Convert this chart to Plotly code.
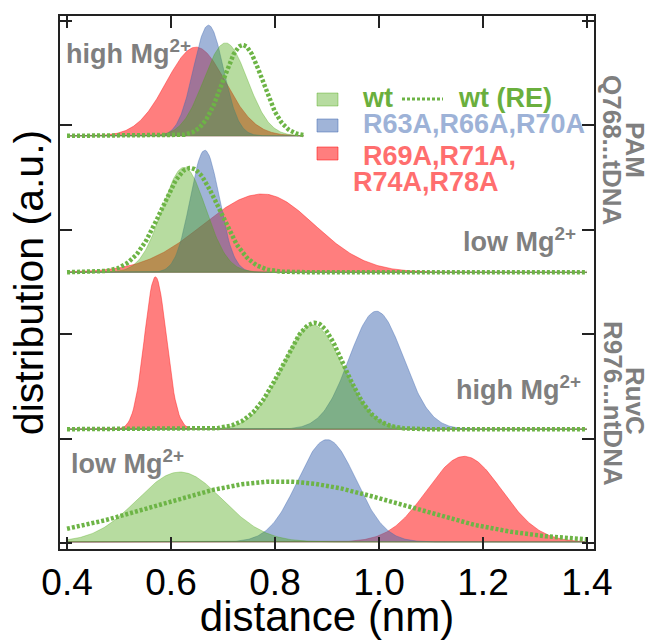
import numpy as np
import plotly.graph_objects as go

# ---------------- data ----------------
panels = ["PAM high Mg2+", "PAM low Mg2+", "RuvC high Mg2+", "RuvC low Mg2+"]
baselines = [3.90, 2.593, 1.09, 0.01]          # vertical offset of each distribution
x_start = [0.40, 0.40, 0.40, 0.40]
x_end = [0.855, 1.40, 1.40, 1.40]

# wt (filled green): peak position, width, peak height
wt_center = [0.705, 0.625, 0.872, 0.617]
wt_sigma = [0.042, 0.042, 0.058, 0.082]
wt_height = [0.89, 1.005, 1.00, 0.67]

# wt (RE) (dotted green)
re_center = [0.738, 0.637, 0.877, 0.81]
re_sigma_l = [0.038, 0.055, 0.062, 0.235]
re_sigma_r = [0.038, 0.055, 0.055, 0.235]
re_height = [0.87, 1.00, 1.02, 0.58]

# R63A,R66A,R70A (filled blue)
b_center = [0.672, 0.665, 0.995, 0.900]
b_sigma = [0.029, 0.028, 0.052, 0.056]
b_height = [1.06, 1.17, 1.13, 0.98]

# R69A,R71A,R74A,R78A (filled red)
r_center = [0.648, 0.776, 0.570, 1.164]
r_sigma_l = [0.057, 0.115, 0.021, 0.072]
r_sigma_r = [0.057, 0.100, 0.021, 0.072]
r_height = [0.85, 0.75, 1.46, 0.82]

x_tickvals = [0.4, 0.6, 0.8, 1.0, 1.2, 1.4]
x_ticktext = ["0.4", "0.6", "0.8", "1.0", "1.2", "1.4"]
y_tickvals = [0, 1, 2, 3, 4, 5]

mg_labels = ["high Mg<sup>2+</sup>", "low Mg<sup>2+</sup>", "high Mg<sup>2+</sup>", "low Mg<sup>2+</sup>"]
legend_labels = ["wt", "wt (RE)", "R63A,R66A,R70A", "R69A,R71A,", "R74A,R78A"]
side_labels = [("PAM", "Q768...tDNA"), ("RuvC", "R976...ntDNA")]

# ---------------- styles ----------------
RED_FILL = "rgba(255,20,20,0.55)"
BLUE_FILL = "rgba(65,105,177,0.5)"
GREEN_FILL = "rgba(75,167,17,0.4)"
GREEN_LINE = "#6db446"
GREEN_TXT = "#6aaf3d"
BLUE_TXT = "#9db2d7"
RED_TXT = "#ff6e6e"
GREY = "#7f7f7f"
DOT = "3px,2px"
FONT = "Liberation Sans, Arial, Helvetica, sans-serif"

W, H = 655, 640
L, R, T, B = 60, 61, 16, 91


def px_x(px):
    return (px - L) / (W - L - R)


def px_y(py):
    return (H - B - py) / (H - T - B)


def profile(x, c, sl, sr, h):
    s = np.where(x < c, sl, sr)
    return h * np.exp(-0.5 * ((x - c) / s) ** 2)


fig = go.Figure()


def add_fill(x, base, yv, color):
    xs = np.concatenate([x, x[::-1]])
    ys = np.concatenate([base + yv, np.full_like(x, base)])
    fig.add_trace(go.Scatter(x=xs, y=ys, mode="lines", fill="toself",
                             fillcolor=color, line=dict(color=color, width=0.8),
                             hoverinfo="skip", showlegend=False))


for i in range(len(panels)):
    x = np.linspace(x_start[i], x_end[i], 400)
    base = baselines[i]
    add_fill(x, base, profile(x, r_center[i], r_sigma_l[i], r_sigma_r[i], r_height[i]), RED_FILL)
    add_fill(x, base, profile(x, b_center[i], b_sigma[i], b_sigma[i], b_height[i]), BLUE_FILL)
    add_fill(x, base, profile(x, wt_center[i], wt_sigma[i], wt_sigma[i], wt_height[i]), GREEN_FILL)
    fig.add_trace(go.Scatter(x=x, y=base + profile(x, re_center[i], re_sigma_l[i], re_sigma_r[i], re_height[i]),
                             mode="lines", line=dict(color=GREEN_LINE, width=4.5, dash=DOT),
                             hoverinfo="skip", showlegend=False))

annotations = []
shapes = []

# Mg labels (left px, vertical centre px)
mg_pos = [(64, 52), (461, 240), (454, 388), (69, 462)]
for lab, (px, py) in zip(mg_labels, mg_pos):
    annotations.append(dict(text=lab, x=px_x(px), y=px_y(py), xref="paper", yref="paper",
                            xanchor="left", yanchor="middle", showarrow=False,
                            font=dict(family=FONT, size=27, color=GREY, weight="bold")))

# Right-hand labels
side_pos = [((635, 150), (612, 150)), ((635, 401), (613, 403))]
for (l1, l2), (p1, p2) in zip(side_labels, side_pos):
    for lab, (px, py) in ((l1, p1), (l2, p2)):
        annotations.append(dict(text=lab, x=px_x(px), y=px_y(py), xref="paper", yref="paper",
                                xanchor="center", yanchor="middle", textangle=90, showarrow=False,
                                font=dict(family=FONT, size=26, color=GREY, weight="bold")))

# Custom legend
swatches = [(GREEN_FILL, 93, 106), (BLUE_FILL, 119, 132), (RED_FILL, 147, 160)]
for col, y0, y1 in swatches:
    shapes.append(dict(type="rect", xref="paper", yref="paper",
                       x0=px_x(317), x1=px_x(338), y0=px_y(y1), y1=px_y(y0),
                       fillcolor=col, line=dict(color=col, width=1)))
shapes.append(dict(type="line", xref="paper", yref="paper",
                   x0=px_x(402), x1=px_x(443), y0=px_y(99), y1=px_y(99),
                   line=dict(color=GREEN_LINE, width=3, dash=DOT)))
leg_pos = [(360, 98, GREEN_TXT), (456, 98, GREEN_TXT), (361, 124, BLUE_TXT),
           (361, 156, RED_TXT), (351, 182, RED_TXT)]
for lab, (px, py, col) in zip(legend_labels, leg_pos):
    annotations.append(dict(text=lab, x=px_x(px), y=px_y(py), xref="paper", yref="paper",
                            xanchor="left", yanchor="middle", showarrow=False,
                            font=dict(family=FONT, size=27, color=col, weight="bold")))

fig.update_layout(
    width=W, height=H, autosize=False,
    margin=dict(l=L, r=R, t=T, b=B),
    paper_bgcolor="white", plot_bgcolor="white",
    showlegend=False,
    annotations=annotations, shapes=shapes,
    font=dict(family=FONT, color="black"),
)
fig.update_xaxes(range=[0.3865, 1.4135], tickvals=x_tickvals, ticktext=x_ticktext, automargin=False,
                 ticks="inside", ticklen=12, tickwidth=1.5, tickcolor="#222",
                 showline=True, linewidth=1.5, linecolor="#222", mirror="ticks",
                 showgrid=False, zeroline=False,
                 tickfont=dict(family=FONT, size=37, color="black"),
                 title=dict(text="distance (nm)", font=dict(family=FONT, size=42, color="black"), standoff=5))
fig.update_yaxes(range=[-0.0575, 5.048], tickvals=y_tickvals, showticklabels=False, automargin=False,
                 ticks="inside", ticklen=12, tickwidth=1.5, tickcolor="#222",
                 showline=True, linewidth=1.5, linecolor="#222", mirror="ticks",
                 showgrid=False, zeroline=False,
                 title=dict(text="distribution (a.u.)", font=dict(family=FONT, size=41, color="black"), standoff=2))

fig.write_html("out.html", config={"displayModeBar": False},
               post_script="document.body.style.margin='0px';document.body.style.overflow='hidden';")
